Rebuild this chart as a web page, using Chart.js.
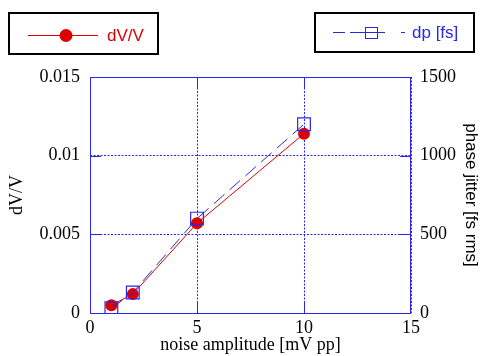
<!DOCTYPE html>
<html>
<head>
<meta charset="utf-8">
<script src="https://cdn.jsdelivr.net/npm/chart.js@4"></script>
<style>
  html, body { margin: 0; padding: 0; background: #fff; }
  #wrap { width: 481px; height: 356px; position: relative; }
</style>
</head>
<body>
<div id="wrap"><canvas id="chart"></canvas></div>
<script>
const noiseAmp = [1, 2, 5, 10];
const dvv = [0.0005, 0.0012, 0.0057, 0.0114];
const dpFs = [30, 130, 600, 1200];
const xTicks = [0, 5, 10, 15];
const leftTicks = [0, 0.005, 0.01, 0.015];
const rightTicks = [0, 500, 1000, 1500];

const blue = 'rgb(40,40,230)';
const red = 'rgb(220,0,0)';
const serif = 'Liberation Serif';
const sans = 'Liberation Sans';

// frame, inner tick marks and the two legend boxes
const decor = {
  id: 'decor',
  beforeDatasetsDraw(chart) {
    const ctx = chart.ctx;
    const a = chart.chartArea;
    const x = chart.scales.x, y = chart.scales.y;
    ctx.save();
    ctx.strokeStyle = blue;
    ctx.lineWidth = 1;
    ctx.beginPath();
    xTicks.slice(1, -1).forEach(v => {
      const px = Math.round(x.getPixelForValue(v)) + 0.5;
      ctx.moveTo(px, a.bottom); ctx.lineTo(px, a.bottom - 11);
      ctx.moveTo(px, a.top); ctx.lineTo(px, a.top + 11);
    });
    leftTicks.slice(1, -1).forEach(v => {
      const py = Math.round(y.getPixelForValue(v)) + 0.5;
      ctx.moveTo(a.left, py); ctx.lineTo(a.left + 11, py);
      ctx.moveTo(a.right, py); ctx.lineTo(a.right - 11, py);
    });
    ctx.stroke();
    ctx.strokeRect(a.left + 0.5, a.top + 0.5, a.right - a.left - 1, a.bottom - a.top);
    ctx.restore();
  },
  afterDraw(chart) {
    const ctx = chart.ctx;
    ctx.save();
    ctx.lineWidth = 2;
    ctx.strokeStyle = '#000';
    ctx.strokeRect(9, 13, 149, 41);
    ctx.strokeRect(315, 13, 159, 39);

    ctx.strokeStyle = red;
    ctx.lineWidth = 1;
    ctx.beginPath(); ctx.moveTo(28, 35.5); ctx.lineTo(98, 35.5); ctx.stroke();
    ctx.fillStyle = red;
    ctx.beginPath(); ctx.arc(66, 35.5, 6.5, 0, Math.PI * 2); ctx.fill();
    ctx.font = '17px ' + sans;
    ctx.textBaseline = 'middle';
    ctx.fillText('dV/V', 107, 36);

    ctx.strokeStyle = blue;
    ctx.beginPath();
    ctx.moveTo(333, 32.5); ctx.lineTo(345, 32.5);
    ctx.moveTo(350, 32.5); ctx.lineTo(385, 32.5);
    ctx.moveTo(401, 32.5); ctx.lineTo(405, 32.5);
    ctx.stroke();
    ctx.strokeRect(365.5, 27.5, 12, 11);
    ctx.fillStyle = blue;
    ctx.fillText('dp [fs]', 412, 33);
    ctx.restore();
  }
};

new Chart(document.getElementById('chart'), {
  type: 'line',
  data: {
    datasets: [
      {
        label: 'dV/V',
        data: noiseAmp.map((v, i) => ({ x: v, y: dvv[i] })),
        yAxisID: 'y',
        borderColor: red,
        backgroundColor: red,
        borderWidth: 1,
        pointStyle: 'circle',
        pointRadius: 6,
        pointBorderWidth: 0,
        order: 1
      },
      {
        label: 'dp [fs]',
        data: noiseAmp.map((v, i) => ({ x: v, y: dpFs[i] })),
        yAxisID: 'y1',
        borderColor: blue,
        backgroundColor: 'rgba(0,0,0,0)',
        borderWidth: 1,
        borderDash: [14, 7],
        pointStyle: 'rect',
        pointRadius: 9,
        pointBorderWidth: 1.2,
        pointBorderColor: blue,
        order: 0
      }
    ]
  },
  options: {
    responsive: true,
    maintainAspectRatio: false,
    animation: false,
    layout: { padding: { top: 77, left: 0, right: 0, bottom: 0 } },
    plugins: { legend: { display: false }, tooltip: { enabled: false } },
    scales: {
      x: {
        type: 'linear',
        min: 0, max: 15,
        afterFit: s => { s.height = 43; },
        afterBuildTicks: s => { s.ticks = xTicks.map(v => ({ value: v })); },
        grid: { color: blue, lineWidth: 1, drawTicks: false },
        border: { display: false, dash: [2, 1.5] },
        ticks: { color: '#000', padding: 4, font: { family: serif, size: 18 }, maxRotation: 0 },
        title: { display: true, text: 'noise amplitude [mV pp]', color: '#000', font: { family: serif, size: 18 }, padding: { top: 0, bottom: 0 } }
      },
      y: {
        type: 'linear',
        position: 'left',
        min: 0, max: 0.015,
        afterFit: s => { s.width = 90; },
        afterBuildTicks: s => { s.ticks = leftTicks.map(v => ({ value: v })); },
        grid: { color: blue, lineWidth: 1, drawTicks: false },
        border: { display: false, dash: [2, 1.5] },
        ticks: { color: '#000', padding: 10, font: { family: serif, size: 18 }, callback: v => String(v) },
        title: { display: true, text: 'dV/V', color: '#000', font: { family: serif, size: 18 }, padding: { top: 6, bottom: 0 } }
      },
      y1: {
        type: 'linear',
        position: 'right',
        min: 0, max: 1500,
        afterFit: s => { s.width = 70; },
        afterBuildTicks: s => { s.ticks = rightTicks.map(v => ({ value: v })); },
        grid: { display: false, drawTicks: false },
        border: { display: false },
        ticks: { color: '#000', padding: 9, font: { family: serif, size: 18 }, callback: v => String(v) },
        title: { display: true, text: 'phase jitter [fs rms]', color: '#000', font: { family: sans, size: 17 }, padding: { top: 0, bottom: 0 } }
      }
    }
  },
  plugins: [decor]
});
</script>
</body>
</html>
